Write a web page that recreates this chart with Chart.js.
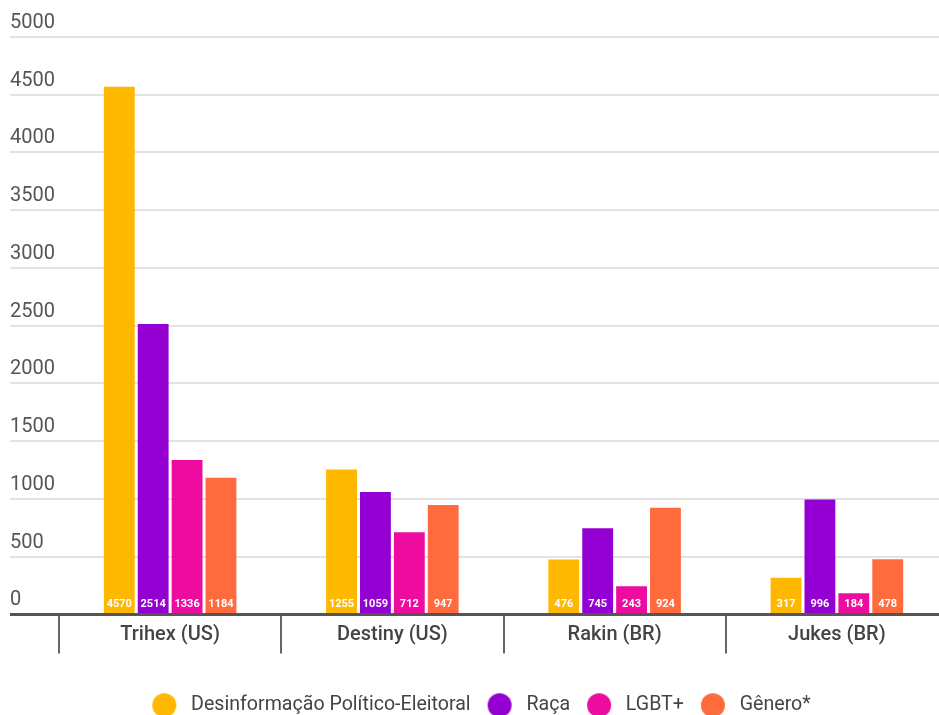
<!DOCTYPE html>
<html>
<head>
<meta charset="utf-8">
<script src="https://cdn.jsdelivr.net/npm/chart.js@4"></script>
<style>
  html, body { margin: 0; padding: 0; overflow: hidden; background: #fff; }
  #wrap { position: relative; width: 950px; height: 725px; }
</style>
</head>
<body>
<div id="wrap"><canvas id="chart"></canvas></div>
<script>
const categories = ["Trihex (US)", "Destiny (US)", "Rakin (BR)", "Jukes (BR)"];
const seriesNames = ["Desinformação Político-Eleitoral", "Raça", "LGBT+", "Gênero*"];
const desinformacao = [4570, 1255, 476, 317];
const raca = [2514, 1059, 745, 996];
const lgbt = [1336, 712, 243, 184];
const genero = [1184, 947, 924, 478];
const colors = ["#ffb800", "#9400d3", "#ee0ba0", "#ff6b3d"];

// round legend markers
function dot(color) {
    const c = document.createElement("canvas");
    c.width = 26;
    c.height = 26;
    const g = c.getContext("2d");
    g.fillStyle = color;
    g.beginPath();
    g.arc(13, 13, 12, 0, Math.PI * 2);
    g.fill();
    return c;
}
const dots = colors.map(dot);

// white counts at the foot of each bar
const valueLabels = {
    id: "valueLabels",
    afterDatasetsDraw(chart) {
        const ctx = chart.ctx;
        ctx.save();
        ctx.font = "bold 11px Roboto";
        ctx.fillStyle = "#fff";
        ctx.textAlign = "center";
        ctx.textBaseline = "middle";
        chart.data.datasets.forEach((ds, i) => {
            chart.getDatasetMeta(i).data.forEach((bar, j) => {
                ctx.fillText(ds.data[j], bar.x, bar.base - 9);
            });
        });
        ctx.restore();
    },
};

const allSeries = [desinformacao, raca, lgbt, genero];

const ctx = document.getElementById("chart").getContext("2d");
const chart = new Chart(ctx, {
    type: "bar",
    data: {
        labels: categories,
        datasets: allSeries.map((values, i) => ({
            label: seriesNames[i],
            data: values,
            backgroundColor: colors[i],
            borderWidth: 0,
            barPercentage: 0.91,
            categoryPercentage: 0.61,
        })),
    },
    options: {
        responsive: true,
        maintainAspectRatio: false,
        animation: false,
        layout: {
            padding: { left: 10, right: 2, top: 37, bottom: 0 },
        },
        scales: {
            x: {
                afterFit: (scale) => {
                    scale.height = 69;
                },
                grid: {
                    offset: true,
                    drawOnChartArea: false,
                    drawTicks: true,
                    tickLength: 39,
                    color: "#666",
                    lineWidth: 2,
                },
                border: { display: false },
                ticks: {
                    font: { family: "Roboto", size: 20, weight: "500" },
                    color: "#444",
                    padding: -30,
                    maxRotation: 0,
                    autoSkip: false,
                },
            },
            y: {
                min: 0,
                max: 5000,
                afterFit: (scale) => {
                    scale.width = 49;
                },
                border: { display: false },
                grid: {
                    tickLength: 49,
                    color: (c) => (c.tick && c.tick.value === 0 ? "#555" : "#e3e3e3"),
                    lineWidth: (c) => (c.tick && c.tick.value === 0 ? 3 : 2),
                },
                ticks: {
                    stepSize: 500,
                    crossAlign: "far",
                    labelOffset: -14,
                    font: { family: "Roboto", size: 20 },
                    color: "#555",
                    callback: (v) => String(v),
                },
            },
        },
        plugins: {
            tooltip: { enabled: false },
            legend: {
                position: "bottom",
                labels: {
                    usePointStyle: true,
                    pointStyleWidth: 34,
                    boxHeight: 20,
                    padding: 12,
                    font: { family: "Roboto", size: 19.6 },
                    color: "#444",
                    generateLabels: (chart) =>
                        Chart.defaults.plugins.legend.labels
                            .generateLabels(chart)
                            .map((item, i) => Object.assign(item, { pointStyle: dots[i] })),
                },
            },
        },
    },
    plugins: [valueLabels],
});
</script>
</body>
</html>
